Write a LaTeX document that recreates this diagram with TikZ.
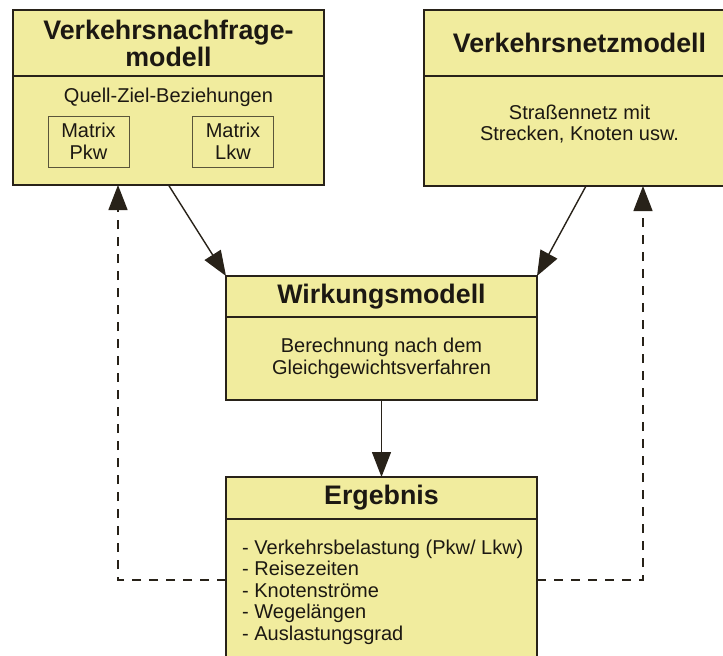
\documentclass[tikz,border=0pt]{standalone}
\usepackage{fontspec}
\setmainfont{Liberation Sans}
\usetikzlibrary{arrows.meta,positioning,calc}
\definecolor{boxfill}{RGB}{241,236,158}
\definecolor{boxline}{RGB}{40,34,25}
\definecolor{ink}{RGB}{28,24,18}

\begin{document}
\begin{tikzpicture}[x=1pt,y=-1pt,
  modhead/.style={draw=boxline,fill=boxfill,line width=1.4pt,outer sep=0pt,inner sep=0pt,
    minimum width=311pt,text=ink,align=center,font=\fontsize{26.8}{27}\selectfont\bfseries},
  modbody/.style={draw=boxline,fill=boxfill,line width=1.4pt,outer sep=0pt,inner sep=0pt,minimum width=311pt},
  btext/.style={text=ink,align=center,inner sep=0pt,font=\fontsize{20}{21.5}\selectfont},
  matbox/.style={btext,draw=boxline!75!boxfill,line width=0.9pt,minimum width=81pt,minimum height=51pt},
  flow/.style={line width=1.4pt,draw=boxline,-{Triangle[length=25pt,width=19pt]}},
  feedback/.style={flow,dash pattern=on 9pt off 8pt}]
\useasboundingbox (0,0) rectangle (723,656);
\clip (0,0) rectangle (723,656);

% Eingangsmodelle
\node[modhead,minimum height=66pt] (vnfHead) at (168.5,43) {Verkehrsnachfrage-\\modell};
\node[modbody,minimum height=109pt,below=0pt of vnfHead] (vnfBody) {};
\node[btext] (qzb) at (168.5,97) {Quell-Ziel-Beziehungen};
\node[matbox] (matPkw) at (88.5,141.5) {Matrix\\Pkw};
\node[matbox] (matLkw) at (233,141.5) {Matrix\\Lkw};

\node[modhead,minimum height=66pt] (vnzHead) at (579.5,43) {Verkehrsnetzmodell};
\node[modbody,minimum height=110pt,below=0pt of vnzHead] (vnzBody) {};
\node[btext] (netz) at (579.5,124) {Straßennetz mit\\Strecken, Knoten usw.};

% Wirkungsmodell
\node[modhead,minimum height=41pt] (wmHead) at (381.5,296.5) {Wirkungsmodell};
\node[modbody,btext,minimum height=83pt,below=0pt of wmHead] (wmBody) {Berechnung nach dem\\Gleichgewichtsverfahren};

% Ergebnis
\node[modhead,minimum height=42pt] (erHead) at (381.5,498) {Ergebnis};
\node[modbody,minimum height=161pt,below=0pt of erHead] (erBody) {};
\node[btext,align=left,anchor=west] (liste) at (242,592)
  {- Verkehrsbelastung (Pkw/ Lkw)\\- Reisezeiten\\- Knotenströme\\- Wegelängen\\- Auslastungsgrad};

% Verbindungen
\draw[flow] (vnfBody.south) -- (wmHead.north west);
\draw[flow] ([xshift=6.5pt]vnzBody.south) -- (wmHead.north east);
\draw[flow] (wmBody.south) -- (erHead.north);

% Rueckkopplung
\coordinate (fbL) at (118,580);
\coordinate (fbR) at (643,580);
\draw[feedback] (erBody.west |- fbL) -- (fbL) -- (fbL |- vnfBody.south);
\draw[feedback] (erBody.east |- fbR) -- (fbR) -- (fbR |- vnzBody.south);
\end{tikzpicture}
\end{document}
